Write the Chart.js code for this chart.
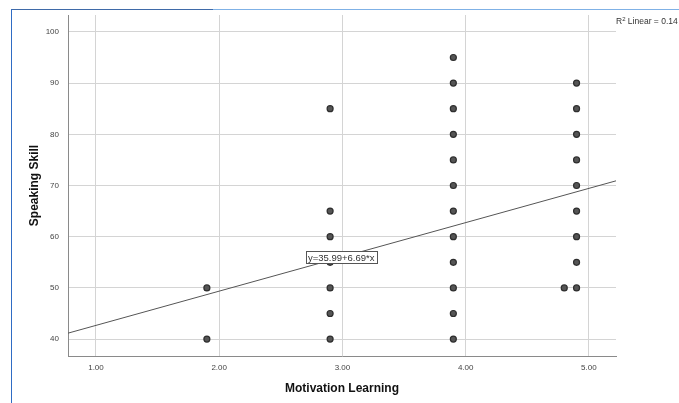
<!DOCTYPE html>
<html>
<head>
<meta charset="utf-8">
<script src="https://cdn.jsdelivr.net/npm/chart.js@4.4.0/dist/chart.umd.min.js"></script>
<style>
  html, body { margin: 0; padding: 0; background: #fff; }
  #wrap { position: relative; width: 679px; height: 403px; overflow: hidden; }
  #chart { position: absolute; left: 0; top: 0; }
  .frameTopA { position: absolute; left: 11px; top: 9px; width: 202px; height: 1px; background: #3f6aa8; }
  .frameTopB { position: absolute; left: 213px; top: 9px; width: 466px; height: 1px; background: #7fb1e6; }
  .frameLeft { position: absolute; left: 11px; top: 9px; width: 1px; height: 394px; background: #2f6cc4; }
  #r2 { position: absolute; left: 616px; top: 16px; font: 8.5px "Liberation Sans", Arial, sans-serif; color: #333; white-space: nowrap; }
  #r2 sup { font-size: 6px; vertical-align: 3px; line-height: 0; }
</style>
</head>
<body>
<div id="wrap">
  <canvas id="chart" width="679" height="403"></canvas>
  <div class="frameTopA"></div>
  <div class="frameTopB"></div>
  <div class="frameLeft"></div>
  <div id="r2">R<sup>2</sup> Linear = 0.14</div>
</div>
<script>
// ---------------- Data ----------------
const motivation = [
  1.9, 1.9,
  2.9, 2.9, 2.9, 2.9, 2.9, 2.9, 2.9,
  3.9, 3.9, 3.9, 3.9, 3.9, 3.9, 3.9, 3.9, 3.9, 3.9, 3.9, 3.9,
  4.9, 4.9, 4.9, 4.9, 4.9, 4.9, 4.9, 4.9, 4.9,
  4.8
];
const speaking = [
  40, 50,
  40, 45, 50, 55, 60, 65, 85,
  40, 45, 50, 55, 60, 65, 70, 75, 80, 85, 90, 95,
  50, 55, 60, 65, 70, 75, 80, 85, 90,
  50
];
const xTicks = [1, 2, 3, 4, 5];
const yTicks = [40, 50, 60, 70, 80, 90, 100];
const xRange = [0.773, 5.22];
const yRange = [36.7, 103.3];

// fit line y = a + b*x
const intercept = 35.99;
const slope = 6.69;
const fitLabel = 'y=35.99+6.69*x';
const fitLabelAt = 2.99;

const points = motivation.map((x, i) => ({ x: x, y: speaking[i] }));
const fitLine = xRange.map(x => ({ x: x, y: intercept + slope * x }));

const tickFont = { family: '"Liberation Sans", Arial, sans-serif', size: 8 };
const titleFont = { family: '"Liberation Sans", Arial, sans-serif', size: 12, weight: 'bold' };

// label box sitting on the fit line
const fitLabelPlugin = {
  id: 'fitLabel',
  afterDatasetsDraw(chart) {
    const ctx = chart.ctx;
    const xs = chart.scales.x, ys = chart.scales.y;
    const cx = xs.getPixelForValue(fitLabelAt);
    const cy = ys.getPixelForValue(intercept + slope * fitLabelAt);
    ctx.save();
    ctx.font = '9.5px "Liberation Sans", Arial, sans-serif';
    const w = Math.round(ctx.measureText(fitLabel).width + 4);
    const h = 12;
    const bx = Math.round(cx - w / 2) + 0.5, by = Math.round(cy - h / 2) + 0.5;
    ctx.fillStyle = '#fff';
    ctx.fillRect(bx, by, w, h);
    ctx.strokeStyle = '#555';
    ctx.lineWidth = 1;
    ctx.strokeRect(bx, by, w, h);
    ctx.fillStyle = '#333';
    ctx.textAlign = 'center';
    ctx.textBaseline = 'middle';
    ctx.fillText(fitLabel, cx, cy + 1);
    ctx.restore();
  }
};

new Chart(document.getElementById('chart'), {
  type: 'scatter',
  data: {
    datasets: [
      {
        label: 'Speaking Skill',
        data: points,
        pointRadius: 3,
        pointBackgroundColor: '#555',
        pointBorderColor: '#2e2e2e',
        pointBorderWidth: 1.2,
        order: 1
      },
      {
        type: 'line',
        label: 'Linear fit',
        data: fitLine,
        borderColor: '#555',
        borderWidth: 1,
        pointRadius: 0,
        fill: false,
        order: 2
      }
    ]
  },
  options: {
    responsive: false,
    animation: false,
    layout: { padding: { left: 0, top: 15, right: 63, bottom: 0 } },
    plugins: {
      legend: { display: false },
      tooltip: { enabled: false }
    },
    scales: {
      x: {
        type: 'linear',
        min: xRange[0],
        max: xRange[1],
        afterFit: s => { s.height = 47; },
        afterBuildTicks: s => { s.ticks = xTicks.map(v => ({ value: v })); },
        border: { display: true, color: '#8a8a8a', width: 1 },
        grid: { color: '#d4d4d4', lineWidth: 1, drawTicks: false },
        ticks: {
          font: tickFont,
          color: '#444',
          padding: 7,
          maxRotation: 0,
          callback: v => Number(v).toFixed(2)
        },
        title: {
          display: true,
          text: 'Motivation Learning',
          font: titleFont,
          color: '#111',
          padding: { top: 0, bottom: 7 }
        }
      },
      y: {
        type: 'linear',
        min: yRange[0],
        max: yRange[1],
        afterFit: s => { s.width = 68; },
        afterBuildTicks: s => { s.ticks = yTicks.map(v => ({ value: v })); },
        border: { display: true, color: '#8a8a8a', width: 1 },
        grid: { color: '#d4d4d4', lineWidth: 1, drawTicks: false },
        ticks: {
          font: tickFont,
          color: '#444',
          padding: 9
        },
        title: {
          display: true,
          text: 'Speaking Skill',
          font: titleFont,
          color: '#111',
          padding: { top: 27, bottom: 0 }
        }
      }
    }
  },
  plugins: [fitLabelPlugin]
});
</script>
</body>
</html>
